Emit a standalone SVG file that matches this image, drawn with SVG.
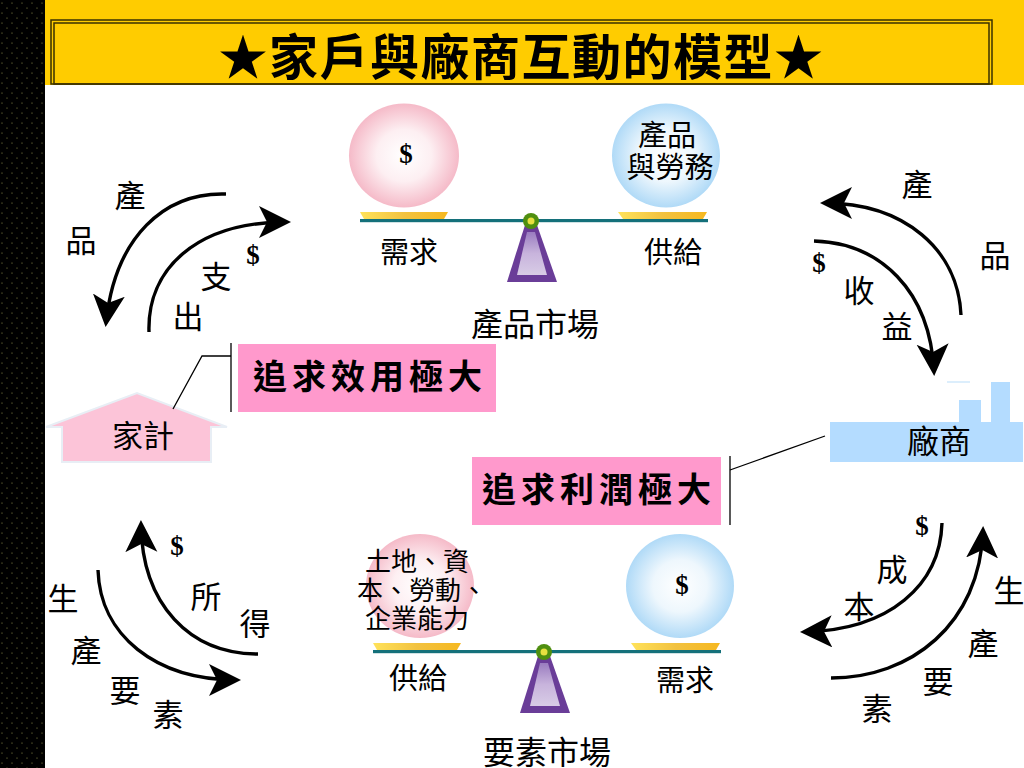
<svg xmlns="http://www.w3.org/2000/svg" width="1024" height="768" viewBox="0 0 1024 768">
<style>
text{font-family:"Noto Sans CJK TC","Noto Sans CJK SC",sans-serif;fill:#000;text-anchor:middle}
.m{font-size:29px}
.f{font-size:31px}
.b{font-size:32px}
.s{font-size:29px}
.x{font-size:26px}
.d{font-family:"Liberation Serif",serif;font-weight:700;font-size:27px}
.h{font-size:34px;font-weight:700;letter-spacing:5px}
.c{fill:none;stroke:#000;stroke-width:3.4}
.t{fill:none;stroke:#000;stroke-width:1.3}
.beam{fill:#14707a}
</style>
<defs>
<pattern id="dots" width="10" height="10" patternUnits="userSpaceOnUse">
<rect width="10" height="10" fill="#000"/>
<circle cx="2" cy="3" r=".6" fill="#9a9a50"/>
<circle cx="7" cy="8" r=".6" fill="#9a9a50"/>
</pattern>
<radialGradient id="pink"><stop offset="0" stop-color="#fff"/><stop offset=".5" stop-color="#fdeff2"/><stop offset="1" stop-color="#f5bac8"/></radialGradient>
<radialGradient id="blue"><stop offset="0" stop-color="#fff"/><stop offset=".5" stop-color="#eef7fd"/><stop offset="1" stop-color="#b0daf7"/></radialGradient>
<linearGradient id="gold" x1="0" x2="1"><stop offset="0" stop-color="#ffe25a"/><stop offset=".5" stop-color="#f2c240"/><stop offset="1" stop-color="#f6b820"/></linearGradient>
<linearGradient id="purple" x1="0" x2="0" y1="0" y2="1"><stop offset="0" stop-color="#9a7cc0"/><stop offset=".5" stop-color="#c8b4dc"/><stop offset="1" stop-color="#d8cce6"/></linearGradient>
<marker id="ah" markerUnits="userSpaceOnUse" markerWidth="36" markerHeight="34" refX="28" refY="16" orient="auto">
<path d="M0 0L32 16L0 32L8 16Z" fill="#000"/>
</marker>
<g id="scale">
<path d="M0 -6H88L84 1H4Z" fill="url(#gold)"/>
<path d="M258 -6H347L343 1H263Z" fill="url(#gold)"/>
<rect x="0" y="1" width="348" height="3.2" class="beam"/>
<path d="M165 7H177L197 64H147Z" fill="#6a3d98"/>
<path d="M167 14H175L187 57H157Z" fill="url(#purple)"/>
<circle cx="171" cy="3" r="8" fill="#4f8f10"/>
<circle cx="171" cy="3" r="3.5" fill="#e8e040"/>
</g>
</defs>
<rect width="1024" height="768" fill="#fff"/>
<rect width="45" height="768" fill="url(#dots)"/>
<rect x="45" width="979" height="85" fill="#ffcc00"/>
<rect id="frame-o" x="51" y="20" width="941" height="64" fill="none" stroke="#3a3000" stroke-width="1.5"/>
<rect id="frame-i" x="54" y="23" width="935" height="61" fill="none" stroke="#3a3000" stroke-width="1.5"/>
<g id="title"><text x="521.5" y="75" style="font-size:49px;font-weight:700;letter-spacing:1.5px">★家戶與廠商互動的模型★</text></g>

<g id="product-market">
<ellipse cx="404" cy="155.5" rx="55" ry="52" fill="url(#pink)"/>
<ellipse cx="666" cy="155.5" rx="54" ry="52" fill="url(#blue)"/>
<use href="#scale" x="360" y="218"/>
<text class="d" x="406" y="163">$</text>
<text class="s" x="667" y="146">產品</text>
<text class="s" x="670" y="178">與勞務</text>
<text class="m" x="409" y="263">需求</text>
<text class="m" x="673" y="263">供給</text>
<text class="b" x="535" y="336">產品市場</text>
</g>

<g id="factor-market">
<ellipse cx="420" cy="586" rx="54" ry="52" fill="url(#pink)"/>
<ellipse cx="680" cy="586" rx="54" ry="52" fill="url(#blue)"/>
<use href="#scale" x="373" y="649"/>
<text class="d" x="682" y="594">$</text>
<text class="x" x="417" y="571">土地、資</text>
<text class="x" x="422" y="600">本、勞動、</text>
<text class="x" x="417" y="628">企業能力</text>
<text class="m" x="418" y="689">供給</text>
<text class="m" x="685" y="691">需求</text>
<text class="b" x="547" y="764">要素市場</text>
</g>

<g id="goal-household">
<rect x="238" y="344" width="258" height="68" fill="#ff99cc"/>
<text class="h" x="370" y="389">追求效用極大</text>
</g>
<g id="goal-firm">
<rect x="472" y="457" width="249" height="68" fill="#ff99cc"/>
<text class="h" x="599" y="502">追求利潤極大</text>
</g>

<g id="household">
<path d="M46 427L137 393L227 427H211V462H62V427Z" fill="#fcc4d8" stroke="#e8eef5" stroke-width="2"/>
<text class="f" x="143" y="447">家計</text>
</g>
<g id="firm">
<rect x="830" y="422" width="193" height="40" fill="#b4dcff"/>
<rect x="959" y="400" width="22" height="22" fill="#b4dcff"/>
<rect x="991" y="382" width="19" height="40" fill="#b4dcff"/>
<rect x="947" y="381" width="23" height="2" fill="#dceefc"/>
<text class="b" x="939" y="453">廠商</text>
</g>

<g id="connectors">
<path class="c" d="M226 194C165 192 115 236 106 323" marker-end="url(#ah)"/>
<path class="c" d="M149 332C147 270 195 222 287 222" marker-end="url(#ah)"/>
<path class="c" d="M961 315C958 250 905 203 824 203" marker-end="url(#ah)"/>
<path class="c" d="M814 241C880 243 930 290 934 372" marker-end="url(#ah)"/>
<path class="c" d="M258 654C190 654 142 605 141 524" marker-end="url(#ah)"/>
<path class="c" d="M98 570C100 635 155 680 237 680" marker-end="url(#ah)"/>
<path class="c" d="M942 523C940 585 890 630 804 632" marker-end="url(#ah)"/>
<path class="c" d="M831 678C910 678 980 625 983 530" marker-end="url(#ah)"/>
<path class="t" d="M173 409L202 356H231"/>
<path class="t" d="M231 343V412"/>
<path class="t" d="M730 470L825 436"/>
<path class="t" d="M730 456V525" stroke="#555"/>
</g>

<g id="flow-labels">
<text class="f" x="130" y="207">產</text>
<text class="f" x="81" y="252">品</text>
<text class="f" x="216" y="288">支</text>
<text class="f" x="188" y="328">出</text>
<text class="d" x="253" y="264">$</text>
<text class="f" x="917" y="196">產</text>
<text class="f" x="995" y="267">品</text>
<text class="f" x="859" y="302">收</text>
<text class="f" x="897" y="338">益</text>
<text class="d" x="819" y="272">$</text>
<text class="d" x="177" y="555">$</text>
<text class="f" x="206" y="608">所</text>
<text class="f" x="255" y="635">得</text>
<text class="f" x="63" y="610">生</text>
<text class="f" x="86" y="662">產</text>
<text class="f" x="125" y="702">要</text>
<text class="f" x="168" y="726">素</text>
<text class="d" x="922" y="535">$</text>
<text class="f" x="892" y="581">成</text>
<text class="f" x="859" y="618">本</text>
<text class="f" x="1009" y="602">生</text>
<text class="f" x="983" y="655">產</text>
<text class="f" x="938" y="693">要</text>
<text class="f" x="877" y="720">素</text>
</g>
</svg>
